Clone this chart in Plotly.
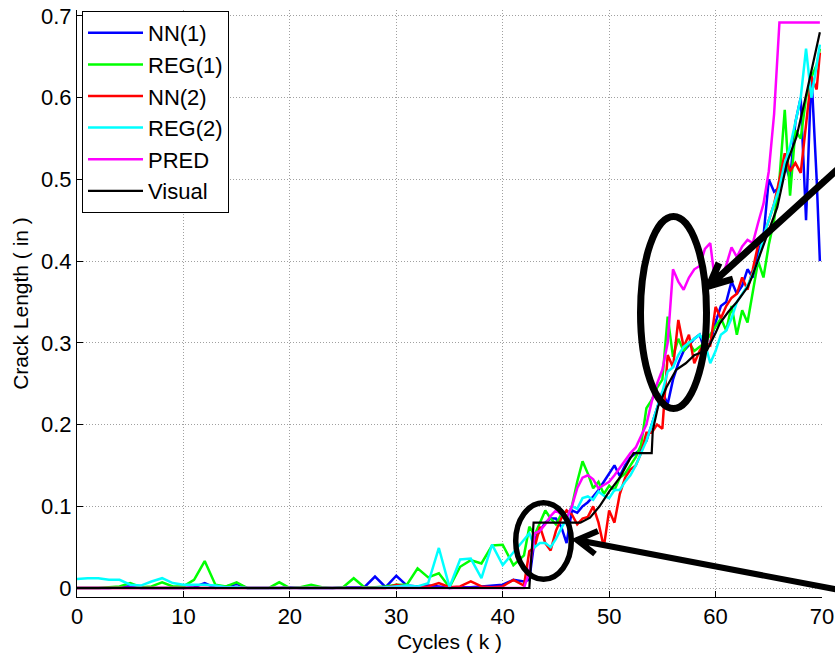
import plotly.graph_objects as go

# ---------------- data ----------------
cycles = [0, 1, 2, 3, 4, 5, 6, 7, 8, 9, 10, 11, 12, 13, 14, 15, 16, 17, 18, 19, 20,
          21, 22, 23, 24, 25, 26, 27, 28, 29, 30, 31, 32, 33, 34, 35, 36, 37, 38, 39, 40, 41, 42,
          42.5, 43, 43.5, 44, 44.5, 45, 45.5, 46, 46.5, 47, 47.5, 48, 48.5, 49, 49.5, 50,
          50.5, 51, 51.5, 52, 52.5, 53, 53.5, 54, 54.5, 55, 55.5, 56, 56.5, 57, 57.5, 58,
          58.5, 59, 59.5, 60, 60.5, 61, 61.5, 62, 62.5, 63, 63.5, 64, 64.5, 65, 65.5, 66,
          66.5, 67, 67.5, 68, 68.5, 69, 69.5, 69.8]

nn1 = [0, 0, 0, 0, 0.001, 0.002, 0, 0, 0, 0, 0, 0.001, 0.006, 0, 0.002, 0.005, 0, 0, 0, 0, 0.001,
       0, 0, 0, 0, 0.001, 0.001, 0.001, 0.014, 0.001, 0.015, 0.003, 0.002, 0.003, 0.002, 0, 0.001,
       0.001, 0.002, 0.003, 0.004, 0.01, 0.008,
       0.01, 0.06, 0.07, 0.08, 0.085, 0.085, 0.075, 0.055, 0.095, 0.092, 0.1, 0.105, 0.112, 0.12,
       0.13, 0.14, 0.15, 0.137, 0.15, 0.16, 0.165, 0.17, 0.18, 0.2, 0.22, 0.24, 0.225, 0.255,
       0.275, 0.29, 0.297, 0.305, 0.31, 0.29, 0.3, 0.325, 0.345, 0.35, 0.375, 0.36, 0.37, 0.39,
       0.38, 0.41, 0.43, 0.5, 0.485, 0.49, 0.52, 0.5, 0.57, 0.6, 0.45, 0.63, 0.5, 0.4]

reg1 = [0, 0, 0, 0.001, 0.002, 0.006, 0.001, 0.002, 0.007, 0.002, 0.002, 0.01, 0.033, 0.004, 0.002,
        0.007, 0, 0, 0, 0.007, 0, 0.001, 0.004, 0.001, 0, 0.001, 0.012, 0.001, 0.001, 0.002, 0.004,
        0.004, 0.024, 0.013, 0.018, 0.001, 0.026, 0.034, 0.03, 0.052, 0.053, 0.028, 0.04,
        0.075, 0.065, 0.08, 0.095, 0.085, 0.078, 0.09, 0.085, 0.1, 0.13, 0.155, 0.14, 0.122, 0.13,
        0.115, 0.125, 0.12, 0.135, 0.14, 0.15, 0.16, 0.175, 0.22, 0.23, 0.245, 0.255, 0.332, 0.283,
        0.305, 0.29, 0.3, 0.29, 0.295, 0.3, 0.31, 0.32, 0.33, 0.315, 0.345, 0.31, 0.34, 0.325,
        0.36, 0.4, 0.38, 0.42, 0.45, 0.5, 0.585, 0.48, 0.56, 0.55, 0.6, 0.625, 0.64, 0.66]

nn2 = [0, 0, 0, 0, 0, 0, 0, 0, 0, 0, 0, 0, 0, 0, 0, 0, 0, 0, 0, 0, 0,
       0, 0, 0, 0, 0, 0, 0, 0, 0, 0.004, 0.002, 0.001, 0.002, 0.006, 0.001, 0.002, 0.008, 0.002,
       0.001, 0.002, 0.01, 0.003,
       0.045, 0.05, 0.075, 0.055, 0.046, 0.07, 0.085, 0.095, 0.09, 0.078, 0.085, 0.087, 0.1, 0.08,
       0.05, 0.095, 0.08, 0.115, 0.135, 0.145, 0.15, 0.165, 0.19, 0.19, 0.2, 0.195, 0.285, 0.27,
       0.328, 0.295, 0.31, 0.275, 0.29, 0.3, 0.297, 0.344, 0.33, 0.345, 0.355, 0.36, 0.38, 0.365,
       0.39, 0.42, 0.43, 0.45, 0.47, 0.5, 0.532, 0.51, 0.52, 0.508, 0.57, 0.626, 0.61, 0.655]

reg2 = [0.011, 0.012, 0.012, 0.01, 0.01, 0.004, 0.003, 0.008, 0.012, 0.006, 0.004, 0.004, 0.004,
        0.003, 0.001, 0.001, 0, 0, 0, 0, 0, 0, 0, 0, 0, 0, 0, 0, 0, 0.001, 0.002, 0.003, 0.002,
        0.006, 0.049, 0.001, 0.035, 0.036, 0.012, 0.053, 0.028, 0.043, 0.059,
        0.067, 0.05, 0.055, 0.055, 0.05, 0.06, 0.073, 0.085, 0.1, 0.097, 0.11, 0.112, 0.108, 0.118,
        0.113, 0.11, 0.12, 0.12, 0.13, 0.138, 0.15, 0.165, 0.18, 0.2, 0.22, 0.24, 0.265, 0.27,
        0.285, 0.295, 0.3, 0.305, 0.31, 0.3, 0.275, 0.29, 0.31, 0.315, 0.33, 0.35, 0.36, 0.37,
        0.385, 0.4, 0.43, 0.45, 0.47, 0.49, 0.52, 0.54, 0.57, 0.6, 0.66, 0.6, 0.64, 0.665]

pred = [0, 0, 0, 0, 0, 0, 0, 0, 0, 0, 0, 0, 0, 0, 0, 0, 0, 0, 0, 0, 0,
        0, 0, 0, 0, 0, 0, 0, 0, 0, 0, 0, 0, 0, 0, 0, 0, 0, 0, 0, 0, 0, 0,
        0.02, 0.067, 0.07, 0.078, 0.088, 0.095, 0.09, 0.085, 0.1, 0.122, 0.135, 0.138, 0.133, 0.122,
        0.126, 0.13, 0.138, 0.147, 0.155, 0.165, 0.172, 0.185, 0.2, 0.228, 0.25, 0.267, 0.3, 0.39,
        0.375, 0.365, 0.38, 0.39, 0.394, 0.415, 0.422, 0.37, 0.38, 0.395, 0.417, 0.405, 0.418,
        0.426, 0.422, 0.447, 0.47, 0.51, 0.58, 0.692, 0.692, 0.692, 0.692, 0.692, 0.692, 0.692,
        0.692, 0.692]

visual_cycles = [0, 42.5, 42.9, 47.3, 48.2, 49.1, 50, 51, 52, 52.3, 54, 54.1, 54.6, 55.4, 56.3,
                 57.2, 58, 59.2, 60, 60.4, 61.2, 62, 63, 63.4, 63.9, 64.8, 65.8, 66.7, 67.6, 68.4,
                 69, 69.6, 69.8]
visual = [0, 0, 0.08, 0.08, 0.086, 0.1, 0.118, 0.135, 0.159, 0.165, 0.165, 0.193, 0.222, 0.246,
          0.267, 0.275, 0.285, 0.291, 0.312, 0.324, 0.338, 0.35, 0.368, 0.38, 0.398, 0.43, 0.466,
          0.52, 0.552, 0.597, 0.634, 0.668, 0.68]

for arr in (nn1, reg1, nn2, reg2, pred):
    assert len(arr) == len(cycles), len(arr)
assert len(visual) == len(visual_cycles)

x_ticks = [0, 10, 20, 30, 40, 50, 60, 70]
y_ticks = [0, 0.1, 0.2, 0.3, 0.4, 0.5, 0.6, 0.7]
y_tick_text = ["0", "0.1", "0.2", "0.3", "0.4", "0.5", "0.6", "0.7"]

series = [("NN(1)", nn1, "#0000FF"), ("REG(1)", reg1, "#00FF00"), ("NN(2)", nn2, "#FF0000"),
          ("REG(2)", reg2, "#00FFFF"), ("PRED", pred, "#FF00FF")]

# ---------------- figure ----------------
fig = go.Figure()
for name, vals, col in series:
    fig.add_trace(go.Scatter(x=cycles, y=vals, mode="lines", name=name,
                             line=dict(color=col, width=2.5)))
fig.add_trace(go.Scatter(x=visual_cycles, y=visual, mode="lines", name="Visual",
                         line=dict(color="#000000", width=2.2)))

W, H = 835, 655
# plot-area frame in page pixels
L, R, T, B = 77, 822, 10, 597


def px(xp, yp):
    """page pixel -> paper coordinates"""
    return (xp - L) / (R - L), (B - yp) / (B - T)


FONT = "Arial, Liberation Sans, Helvetica, sans-serif"

shapes = []
for (x0p, y0p, x1p, y1p, w) in [(640.5, 216.5, 706.5, 408.5, 7), (515.7, 502.7, 571.3, 579.3, 5.5)]:
    a, b = px(x0p, y1p)
    c, d = px(x1p, y0p)
    shapes.append(dict(type="circle", xref="paper", yref="paper", x0=a, y0=b, x1=c, y1=d,
                       line=dict(color="black", width=w)))


def arrow(tail, tip, arm1, arm2, w):
    (tx, ty), (hx, hy), (a1x, a1y), (a2x, a2y) = [px(*p) for p in (tail, tip, arm1, arm2)]
    path = f"M{tx},{ty} L{hx},{hy} M{a1x},{a1y} L{hx},{hy} L{a2x},{a2y}"
    return dict(type="path", xref="paper", yref="paper", path=path,
                line=dict(color="black", width=w))


shapes.append(arrow((850, 158), (709, 286), (719, 263), (733, 279), 7))
shapes.append(arrow((850, 592), (577, 540), (598, 531), (595, 554), 6))

lx, ly = px(82, 11)
fig.update_layout(
    width=W, height=H,
    margin=dict(l=L, r=W - R, t=T, b=H - B, pad=0),
    paper_bgcolor="white", plot_bgcolor="white",
    font=dict(family=FONT, color="black", size=22),
    showlegend=True,
    legend=dict(x=lx, y=ly, xanchor="left", yanchor="top",
                bordercolor="black", borderwidth=1, bgcolor="white",
                font=dict(size=22, family=FONT), itemwidth=55, tracegroupgap=0),
    shapes=shapes,
)
fig.update_xaxes(range=[0, 70], tickvals=x_ticks, showgrid=True, gridcolor="#a0a0a0",
                 griddash="1px,2px", gridwidth=1, showline=True, linecolor="black",
                 linewidth=1, ticks="inside", ticklen=6, tickcolor="black", zeroline=False,
                 tickfont=dict(size=22), automargin=False, ticklabeloverflow="allow",
                 title=dict(text="Cycles ( k )", font=dict(size=21), standoff=5))
fig.update_yaxes(range=[-0.011, 0.7073], tickvals=y_ticks, ticktext=y_tick_text, showgrid=True,
                 gridcolor="#a0a0a0", griddash="1px,2px", gridwidth=1, showline=True,
                 linecolor="black", linewidth=1, ticks="inside", ticklen=6, tickcolor="black",
                 zeroline=False, tickfont=dict(size=22), automargin=False,
                 ticklabeloverflow="allow",
                 title=dict(text="Crack Length ( in )", font=dict(size=21), standoff=6))

# remove the browser's default body margin so the figure sits at the page origin
fig.write_html("out.html", config={"displayModeBar": False},
               post_script="document.body.style.margin='0';")
